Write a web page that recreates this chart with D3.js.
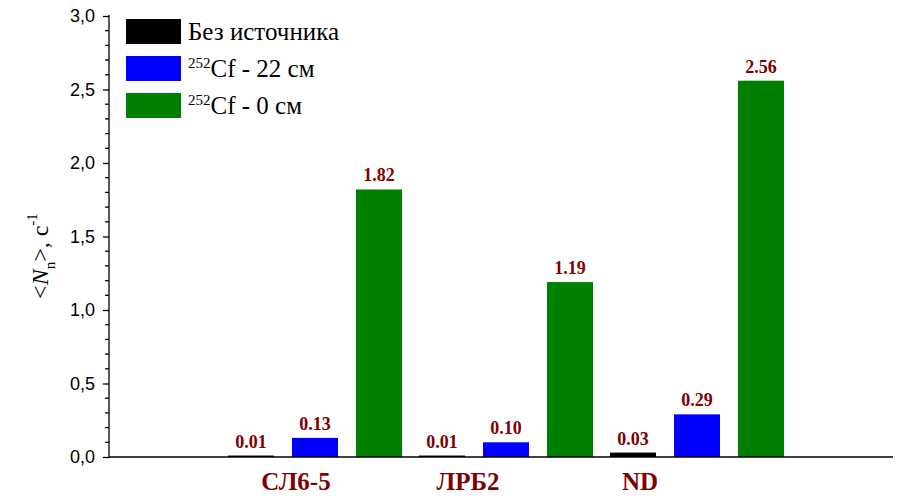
<!DOCTYPE html>
<html>
<head>
<meta charset="utf-8">
<script src="https://cdn.jsdelivr.net/npm/d3@7"></script>
<style>
  html, body { margin: 0; padding: 0; background: #fff; }
  svg { display: block; }
  .serif { font-family: "Liberation Serif", "Times New Roman", "DejaVu Serif", serif; }
  .sans { font-family: Arial, "Liberation Sans", sans-serif; }
</style>
</head>
<body>
<svg id="chart" width="902" height="496"></svg>
<script>
// Detectors and measurement series (neutron count rate, 1/s)
const categories = ["СЛ6-5", "ЛРБ2", "ND"];
const seriesNames = ["Без источника", "Cf - 22 см", "Cf - 0 см"];
const seriesSup = ["", "252", "252"];
const seriesColors = ["#000000", "#0000ff", "#008000"];
const noSource = [0.01, 0.01, 0.03];
const cf22 = [0.13, 0.10, 0.29];
const cf0 = [1.82, 1.19, 2.56];
const yTicks = [0, 0.5, 1.0, 1.5, 2.0, 2.5, 3.0];

const series = [noSource, cf22, cf0];

const svg = d3.select("#chart");
const plotLeft = 109, plotRight = 893, plotTop = 16, plotBottom = 457;

const y = d3.scaleLinear().domain([0, 3]).range([plotBottom, plotTop]);
// centre of each detector group (middle bar)
const xGroup = d3.scaleLinear().domain([0, 2]).range([315, 697]);
const xOffset = d3.scaleLinear().domain([0, 2]).range([-64, 64]);
const barW = 46;
// category captions under the axis
const xLabel = d3.scaleLinear().domain([0, 2]).range([296, 640]);

// bars
series.forEach((vals, s) => {
  svg.append("g").selectAll("rect").data(vals).join("rect")
    .attr("x", (d, i) => xGroup(i) + xOffset(s) - barW / 2)
    .attr("y", d => y(d))
    .attr("width", barW)
    .attr("height", d => y(0) - y(d))
    .attr("fill", seriesColors[s]);
  svg.append("g").selectAll("text").data(vals).join("text")
    .attr("class", "serif")
    .attr("x", (d, i) => xGroup(i) + xOffset(s))
    .attr("y", d => y(d) - 8)
    .attr("text-anchor", "middle")
    .attr("font-weight", "bold")
    .attr("font-size", 18)
    .attr("fill", "#800000")
    .text(d => d.toFixed(2));
});

// y axis
const yAxis = d3.axisLeft(y).tickValues(yTicks).tickSize(6)
  .tickFormat(d => d3.format(".1f")(d).replace(".", ","));
const gy = svg.append("g").attr("transform", `translate(${plotLeft},0)`).call(yAxis);
gy.attr("font-family", null).attr("font-size", null);
gy.select(".domain").attr("stroke-width", 1.3).attr("d", `M-0,${plotTop - 1}V${plotBottom + 1}`);
gy.selectAll(".tick line").attr("stroke-width", 1.3);
gy.selectAll(".tick text")
  .attr("class", "sans")
  .attr("font-size", 18).attr("fill", "#000").attr("x", -14);
// minor ticks
const minor = d3.range(0, 3.01, 0.1).filter(v => Math.abs(v * 2 - Math.round(v * 2)) > 1e-6);
svg.append("g").selectAll("line").data(minor).join("line")
  .attr("x1", plotLeft - 4).attr("x2", plotLeft)
  .attr("y1", d => y(d)).attr("y2", d => y(d))
  .attr("stroke", "#000").attr("stroke-width", 1.3);

// x axis line
svg.append("line")
  .attr("x1", plotLeft).attr("x2", plotRight)
  .attr("y1", plotBottom).attr("y2", plotBottom)
  .attr("stroke", "#000").attr("stroke-width", 1.5);

// category labels
svg.append("g").selectAll("text").data(categories).join("text")
  .attr("class", "serif")
  .attr("x", (d, i) => xLabel(i))
  .attr("y", 490)
  .attr("text-anchor", "middle")
  .attr("font-weight", "bold")
  .attr("font-size", 25)
  .attr("fill", "#800000")
  .text(d => d);

// y axis title: <N_n>, c^-1
const title = svg.append("text")
  .attr("class", "serif")
  .attr("transform", "translate(48,256) rotate(-90)")
  .attr("text-anchor", "middle")
  .attr("font-size", 24)
  .attr("fill", "#000");
title.append("tspan").text("<");
title.append("tspan").attr("font-style", "italic").text("N");
title.append("tspan").attr("font-size", 15).attr("dy", 7).text("n");
title.append("tspan").attr("dy", -7).text(">, c");
title.append("tspan").attr("font-size", 15).attr("dy", -11).text("-1");

// legend
const legend = svg.append("g");
seriesNames.forEach((name, i) => {
  const ly = 19 + i * 37;
  legend.append("rect")
    .attr("x", 126).attr("y", ly).attr("width", 55).attr("height", 25)
    .attr("fill", seriesColors[i]);
  const t = legend.append("text")
    .attr("class", "serif")
    .attr("x", 188).attr("y", ly + 21)
    .attr("font-size", 25)
    .attr("fill", "#000");
  if (seriesSup[i]) {
    t.append("tspan").attr("font-size", 15).attr("dy", -9).text(seriesSup[i]);
    t.append("tspan").attr("dy", 9).text(name);
  } else {
    t.text(name);
  }
});
</script>
</body>
</html>
